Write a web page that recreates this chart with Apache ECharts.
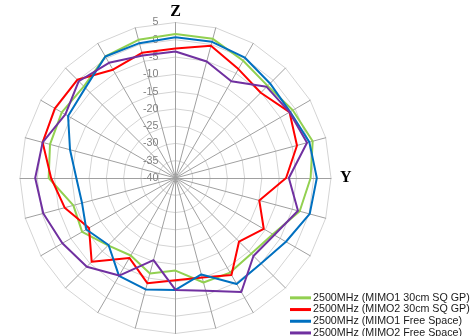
<!DOCTYPE html>
<html><head><meta charset="utf-8">
<script src="https://cdn.jsdelivr.net/npm/echarts@6/dist/echarts.min.js"></script>
<style>html,body{margin:0;padding:0;background:#fff}#c{width:471px;height:336px}</style>
</head><body><div id="c"></div>
<script>
// Angles clockwise from top, every 15 degrees
const angleLabels = ['Z','','','','','','Y','','','','','','','','','','','','','','','','',''];
const seriesNames = ['2500MHz (MIMO1 30cm SQ GP)','2500MHz (MIMO2 30cm SQ GP)','2500MHz (MIMO1 Free Space)','2500MHz (MIMO2 Free Space)'];
const mimo1GP = [1.7, 1.7, -0.8, -2.3, -0.8, 1.1, -0.9, -2.8, -7.5, -9.0, -8.4, -8.7, -13.2, -11.4, -14.1, -12.4, -8.8, -9.4, -3.3, -2.4, -2.0, -2.5, 0.6, 1.4];
const mimo2GP = [-2.5, -0.4, -3.6, -5.1, -1.9, -3.6, -8.0, -14.9, -10.5, -14.0, -7.6, -10.2, -10.4, -8.5, -13.3, -5.7, -11.1, -6.8, -4.0, -0.2, 0.3, 0.2, -3.8, -2.5];
const mimo1FS = [0.7, 0.8, 0.2, -1.3, -1.7, 0.1, 0.9, 0.2, -3.1, -5.0, -4.6, -11.1, -7.6, -6.6, -7.3, -12.6, -10.2, -12.0, -11.3, -8.4, -4.1, -3.1, 0.6, 0.4];
const mimo2FS = [-3.4, -5.1, -7.7, -2.7, -1.9, -0.6, -7.2, -3.3, -7.0, -8.1, -1.9, -6.2, -7.6, -15.4, -7.4, -3.7, -2.2, -0.4, 0.6, -0.2, -3.2, -0.4, -1.5, -3.3];
const radialMin = -40, radialMax = 5;
const colors = ['#92D050', '#FF0000', '#0070C0', '#7030A0'];

const n = angleLabels.length;
// ECharts radar goes counter-clockwise; reorder clockwise data
const toCCW = arr => arr.map((_, i) => arr[(n - i) % n]);

const chart = echarts.init(document.getElementById('c'), null, {renderer: 'canvas'});
const indicator = toCCW(angleLabels).map((name, i) => ({
  name: name, min: radialMin, max: radialMax,
  axisLabel: {show: i === 0}
}));
const allData = [mimo1GP, mimo2GP, mimo1FS, mimo2FS];
chart.setOption({
  animation: false,
  color: colors,
  legend: {
    orient: 'vertical', left: 290, top: 292, height: 60, padding: 0,
    itemWidth: 21, itemHeight: 3, itemGap: 0, icon: 'rect',
    textStyle: {fontSize: 10.7, color: '#1a1a1a', fontFamily: 'Liberation Sans, Arial', lineHeight: 11.7, padding: [0, 0, 0, -3]},
    data: seriesNames
  },
  radar: {
    center: [175.5, 178], radius: 155.5,
    startAngle: 90, shape: 'polygon', splitNumber: 9,
    indicator: indicator,
    nameGap: 3,
    axisName: {
      color: '#000', fontFamily: 'Liberation Serif, Times New Roman', fontWeight: 'bold', fontSize: 16,
      formatter: function (name) { return name === 'Y' ? '{y|' + name + '}' : name; },
      rich: {y: {fontFamily: 'Liberation Serif, Times New Roman', fontWeight: 'bold', fontSize: 16, color: '#000', padding: [0, 0, 0, 6]}}
    },
    axisLine: {lineStyle: {color: '#a0a0a0', width: 1}},
    splitLine: {lineStyle: {color: '#d4d4d4', width: 1}},
    splitArea: {show: false},
    axisTick: {show: false},
    axisLabel: {show: false, color: '#808080', fontSize: 10.7, fontFamily: 'Liberation Sans, Arial', margin: 17}
  },
  series: [{
    type: 'radar', symbol: 'none',
    data: allData.map((d, i) => ({
      name: seriesNames[i], value: toCCW(d),
      lineStyle: {color: colors[i], width: 2},
      itemStyle: {color: colors[i]}
    }))
  }]
});
</script></body></html>
